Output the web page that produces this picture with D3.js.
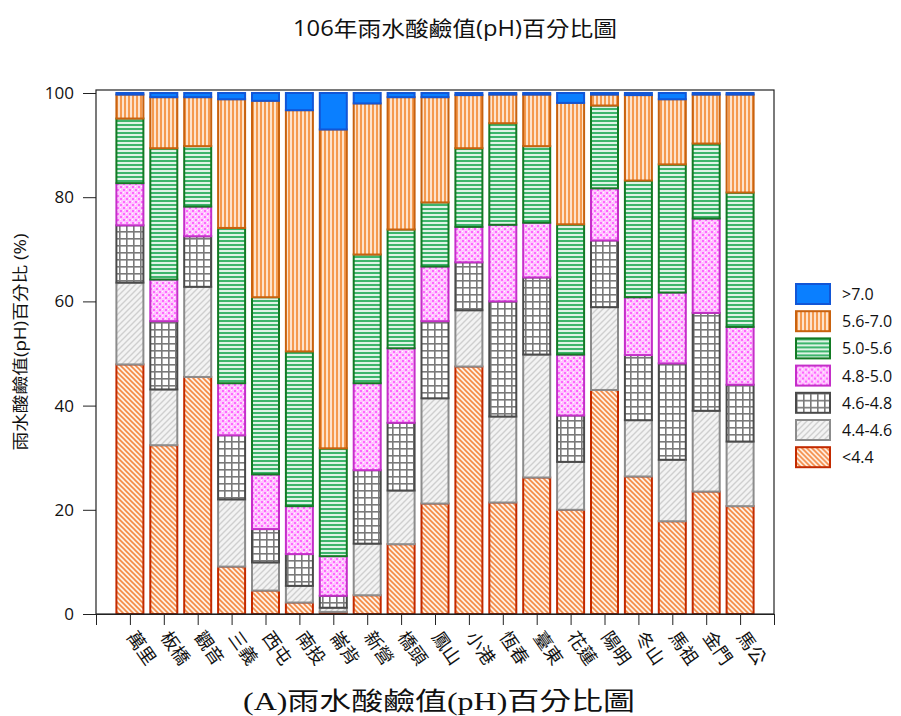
<!DOCTYPE html>
<html><head><meta charset="utf-8">
<script src="https://cdn.jsdelivr.net/npm/d3@7"></script>
<style>
body{margin:0;background:#fff;}
svg{display:block;}
text{font-family:"Open Sans","Noto Sans CJK TC",sans-serif;fill:#111;}
</style></head>
<body><svg id="chart" width="901" height="716"></svg>
<script>
const stations = ["萬里","板橋","觀音","三義","西屯","南投","崙背","新營","橋頭","鳳山","小港","恆春","臺東","花蓮","陽明","冬山","馬祖","金門","馬公"];
const seriesNames = ["<4.4","4.4-4.6","4.6-4.8","4.8-5.0","5.0-5.6","5.6-7.0",">7.0"];
const lt44   = [47.9,32.4,45.5,9.1,4.5,2.2,0.4,3.6,13.4,21.2,47.5,21.4,26.2,20.0,43.0,26.4,17.8,23.5,20.7];
const s44_46 = [15.7,10.7,17.3,12.9,5.4,3.2,0.8,9.9,10.3,20.2,10.8,16.5,23.6,9.2,15.9,10.8,11.8,15.5,12.4];
const s46_48 = [11.0,13.1,9.7,12.3,6.4,6.1,2.3,14.1,13.0,14.8,9.2,22.1,14.8,8.9,12.8,12.5,18.5,18.8,10.9];
const s48_50 = [8.1,8.0,5.7,10.0,10.5,9.2,7.6,16.7,14.3,10.5,6.8,14.7,10.5,11.7,10.0,11.1,13.6,18.1,11.1];
const s50_56 = [12.4,25.2,11.6,29.8,34.0,29.7,20.7,24.7,22.8,12.3,15.1,19.5,14.7,25.0,15.9,22.4,24.6,14.4,25.8];
const s56_70 = [4.6,9.8,9.4,24.7,37.7,46.3,61.2,29.0,25.4,20.2,10.2,5.5,9.9,23.3,2.1,16.4,12.5,9.4,18.8];
const gt70   = [0.3,0.8,0.8,1.2,1.5,3.3,7.0,2.0,0.8,0.8,0.4,0.3,0.3,1.9,0.3,0.4,1.2,0.3,0.3];
const yTicks = [0,20,40,60,80,100];

const seriesValues = [lt44,s44_46,s46_48,s48_50,s50_56,s56_70,gt70];
const table = stations.map((s,i)=>{const o={station:s,idx:i+1};seriesNames.forEach((n,k)=>o[n]=seriesValues[k][i]);return o;});

const svg = d3.select("#chart");
const defs = svg.append("defs");

function pat(id,w,h,build){const p=defs.append("pattern").attr("id",id).attr("patternUnits","userSpaceOnUse").attr("width",w).attr("height",h);build(p);}
pat("p70",4,4,p=>{p.append("rect").attr("width",4).attr("height",4).attr("fill","#0a7fff");});
pat("p56",4,4,p=>{p.append("rect").attr("width",4).attr("height",4).attr("fill","#fde3cc");p.append("rect").attr("width",2).attr("height",4).attr("fill","#f59a4e");});
pat("p50",4,4,p=>{p.append("rect").attr("width",4).attr("height",4).attr("fill","#dff3e6");p.append("rect").attr("width",4).attr("height",2).attr("fill","#3db56c");});
pat("p48",6,6,p=>{p.append("rect").attr("width",6).attr("height",6).attr("fill","#ffc4ff");
  p.append("rect").attr("x",0).attr("y",0).attr("width",2).attr("height",2).attr("fill","#ff66ff");
  p.append("rect").attr("x",3).attr("y",3).attr("width",2).attr("height",2).attr("fill","#ff66ff");
  p.append("rect").attr("x",3).attr("y",0).attr("width",1).attr("height",1).attr("fill","#fff");
  p.append("rect").attr("x",0).attr("y",3).attr("width",1).attr("height",1).attr("fill","#fff");});
pat("p46",7,7,p=>{p.append("rect").attr("width",7).attr("height",7).attr("fill","#fff");
  p.append("rect").attr("x",0).attr("y",0).attr("width",7).attr("height",1.6).attr("fill","#7a7a7a");
  p.append("rect").attr("x",0).attr("y",0).attr("width",1.6).attr("height",7).attr("fill","#7a7a7a");});
pat("p44",6,6,p=>{p.append("rect").attr("width",6).attr("height",6).attr("fill","#f3f3f3");
  p.append("path").attr("d","M-1,1 L1,-1 M0,6 L6,0 M5,7 L7,5").attr("stroke","#cfcfcf").attr("stroke-width",1.4);});
pat("plt",5,5,p=>{p.append("rect").attr("width",5).attr("height",5).attr("fill","#fff1e6");
  p.append("path").attr("d","M-1,4 L1,6 M0,0 L5,5 M4,-1 L6,1").attr("stroke","#f48a45").attr("stroke-width",1.6);});

const fills = {"<4.4":"url(#plt)","4.4-4.6":"url(#p44)","4.6-4.8":"url(#p46)","4.8-5.0":"url(#p48)","5.0-5.6":"url(#p50)","5.6-7.0":"url(#p56)",">7.0":"url(#p70)"};
const strokes = {"<4.4":"#c22a00","4.4-4.6":"#8c8c8c","4.6-4.8":"#4a4a4a","4.8-5.0":"#c42fc8","5.0-5.6":"#137a24","5.6-7.0":"#c8620f",">7.0":"#1256d6"};

const L=96,R=774,T=90,B=614;
const x = d3.scaleLinear().domain([0,20]).range([L,R]);
const y = d3.scaleLinear().domain([0,100]).range([B,93]);
const bw = 27;

const stacked = d3.stack().keys(seriesNames)(table);

const g = svg.append("g");
stacked.forEach(layer=>{
  g.append("g").selectAll("rect").data(layer).join("rect")
    .attr("x",d=>x(d.data.idx)-bw/2)
    .attr("width",bw)
    .attr("y",d=>y(d[1]))
    .attr("height",d=>Math.max(0,y(d[0])-y(d[1])))
    .attr("fill",fills[layer.key])
    .attr("stroke",strokes[layer.key])
    .attr("stroke-width",2);
});

svg.append("rect").attr("x",L).attr("y",T).attr("width",R-L).attr("height",B-T).attr("fill","none").attr("stroke","#222").attr("stroke-width",1.2);

const yAxis = svg.append("g").attr("transform",`translate(${L},0)`)
  .call(d3.axisLeft(y).tickValues(yTicks).tickSize(13).tickPadding(9).tickFormat(d3.format("d")));
yAxis.select(".domain").remove();
yAxis.selectAll("line").attr("stroke","#222");
yAxis.selectAll("text").style("font-size","17px").attr("fill","#111");

const xAxis = svg.append("g").attr("transform",`translate(0,${B})`)
  .call(d3.axisBottom(x).tickValues(d3.range(0,21)).tickSize(11).tickFormat(""));
xAxis.select(".domain").attr("stroke","#222");
xAxis.selectAll("line").attr("stroke","#222");

svg.append("g").selectAll("text").data(stations).join("text")
  .attr("transform",(d,i)=>`translate(${x(i+1)-4},637) rotate(55)`)
  .attr("text-anchor","start")
  .style("font-size","18px")
  .text(d=>d);

svg.append("text").attr("x",455).attr("y",36).attr("text-anchor","middle")
  .attr("textLength",324).attr("lengthAdjust","spacingAndGlyphs")
  .style("font-size","21px").text("106年雨水酸鹼值(pH)百分比圖");

svg.append("text").attr("transform","translate(26,342) rotate(-90)").attr("text-anchor","middle")
  .attr("textLength",217).attr("lengthAdjust","spacingAndGlyphs")
  .style("font-size","16px").text("雨水酸鹼值(pH)百分比 (%)");

svg.append("text").attr("x",439).attr("y",710).attr("text-anchor","middle")
  .attr("textLength",392).attr("lengthAdjust","spacingAndGlyphs")
  .style("font-family","'Liberation Serif','Noto Sans CJK TC',serif").style("font-size","25px").text("(A)雨水酸鹼值(pH)百分比圖");

const legendOrder = seriesNames.slice().reverse();
const lg = svg.append("g").selectAll("g").data(legendOrder).join("g")
  .attr("transform",(d,i)=>`translate(796,${284+i*27.2})`);
lg.append("rect").attr("width",34).attr("height",20)
  .attr("fill",d=>fills[d]).attr("stroke",d=>strokes[d]).attr("stroke-width",2);
lg.append("text").attr("x",46).attr("y",16).style("font-size","16px").text(d=>d);
</script>
</body></html>
